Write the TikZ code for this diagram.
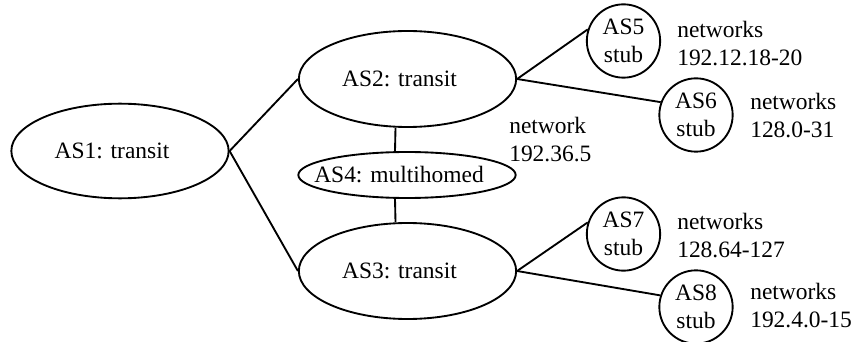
\documentclass[tikz,border=0pt]{standalone}
\usepackage{fontspec}
\setmainfont{Liberation Serif}
\usetikzlibrary{shapes.geometric}
% ellipse label, set slightly left of the ellipse centre
\newcommand{\aslabel}[1]{\makebox[0pt]{#1\hspace{12pt}}}
\begin{document}
\begin{tikzpicture}[x=0.75pt,y=-0.75pt,
  every node/.style={font=\fontsize{17.6}{21}\selectfont},
  asell/.style={draw,line width=1.4pt,ellipse,inner sep=0pt},
  asstub/.style={draw,line width=1.4pt,circle,inner sep=0pt,minimum size=55pt,align=center},
  netlabel/.style={anchor=west,align=left,inner sep=0pt},
  link/.style={line width=1.4pt}]
\useasboundingbox (0,0) rectangle (853,342);
% transit and multihomed systems
\node[asell,minimum width=163pt,minimum height=71pt] (AS1) at (120,151) {\aslabel{AS1: transit}};
\node[asell,minimum width=163pt,minimum height=72pt] (AS2) at (407.5,79) {\aslabel{AS2: transit}};
\node[asell,minimum width=163pt,minimum height=34.5pt] (AS4) at (407,175) {\aslabel{AS4: multihomed}};
\node[asell,minimum width=163pt,minimum height=72pt] (AS3) at (407.5,271) {\aslabel{AS3: transit}};
% stub systems
\node[asstub] (AS5) at (623.5,41) {AS5\\stub};
\node[asstub] (AS6) at (696,115) {AS6\\stub};
\node[asstub] (AS7) at (623.5,234) {AS7\\stub};
\node[asstub] (AS8) at (696,307) {AS8\\stub};
% address labels
\node[netlabel] (N5) at (677,44) {networks\\192.12.18-20};
\node[netlabel] (N6) at (750,116) {networks\\128.0-31};
\node[netlabel] (N7) at (677,236) {networks\\128.64-127};
\node[netlabel] (N8) at (750,306) {networks\\192.4.0-15};
\node[netlabel] (N4) at (509,140) {network\\192.36.5};
% links
\draw[link] (AS1.east) -- (AS2.west);
\draw[link] (AS1.east) -- (AS3.west);
\draw[link] ([xshift=-9pt]AS2.south) -- ([xshift=-9pt]AS4.north);
\draw[link] ([xshift=-9pt]AS4.south) -- ([xshift=-9pt]AS3.north);
\draw[link] (AS2.east) -- (AS5.162);
\draw[link] (AS2.east) -- (AS6.160);
\draw[link] (AS3.east) -- (AS7.162);
\draw[link] (AS3.east) -- (AS8.162);
\end{tikzpicture}
\end{document}
